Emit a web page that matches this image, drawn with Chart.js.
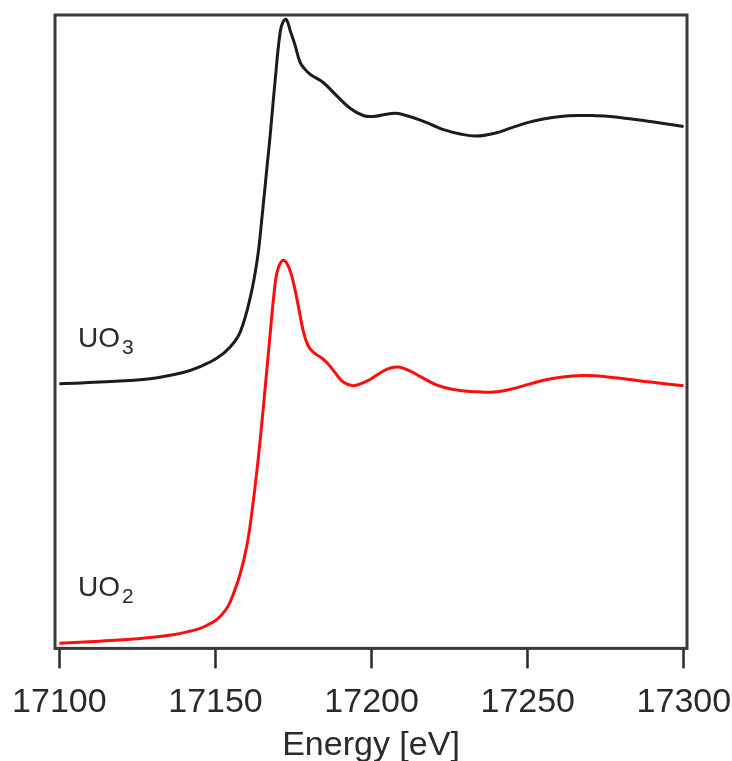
<!DOCTYPE html>
<html>
<head>
<meta charset="utf-8">
<script src="https://cdn.jsdelivr.net/npm/chart.js@4.4.1/dist/chart.umd.min.js"></script>
<style>
  body { margin: 0; background: #fff; }
  #wrap { width: 732px; height: 761px; }
</style>
</head>
<body>
<div id="wrap"><canvas id="xanes"></canvas></div>
<script>
const xTicks = [17100, 17150, 17200, 17250, 17300];

// UO3 (stacked one unit above UO2)
const uo3Energy = [17100.0, 17113.0, 17129.1, 17139.6, 17145.1, 17150.5, 17154.7, 17157.9, 17161.1, 17163.4,
  17165.0, 17166.6, 17167.5, 17169.1, 17170.7, 17171.7, 17172.7, 17173.9, 17175.5, 17177.1,
  17178.7, 17180.4, 17184.5, 17189.0, 17193.2, 17197.3, 17200.6, 17207.3, 17210.8, 17215.6,
  17219.8, 17223.0, 17228.4, 17233.5, 17239.7, 17244.5, 17249.9, 17255.0, 17260.5, 17265.9,
  17271.7, 17276.5, 17281.9, 17287.1, 17292.5, 17299.9];
const uo3Mu = [1.005, 1.012, 1.025, 1.049, 1.072, 1.105, 1.148, 1.206, 1.339, 1.490,
  1.665, 1.860, 1.969, 2.183, 2.370, 2.412, 2.419, 2.377, 2.319, 2.253,
  2.226, 2.206, 2.175, 2.121, 2.074, 2.047, 2.043, 2.056, 2.048, 2.029,
  2.008, 1.992, 1.975, 1.967, 1.979, 1.998, 2.019, 2.033, 2.043, 2.047,
  2.046, 2.043, 2.035, 2.027, 2.018, 2.004];

// UO2
const uo2Energy = [17100.0, 17113.0, 17125.9, 17136.4, 17141.9, 17145.1, 17147.3, 17150.5, 17153.1, 17154.7,
  17157.9, 17160.2, 17162.1, 17163.7, 17165.3, 17167.5, 17169.1, 17170.1, 17171.8, 17173.9,
  17176.2, 17178.1, 17179.7, 17181.3, 17183.6, 17185.8, 17188.4, 17190.9, 17194.1, 17197.0,
  17199.6, 17205.0, 17208.6, 17212.4, 17215.6, 17219.8, 17223.0, 17228.4, 17233.9, 17239.0,
  17244.5, 17249.9, 17255.0, 17260.5, 17267.9, 17274.9, 17281.9, 17289.3, 17299.9];
const uo2Mu = [-0.002, 0.006, 0.016, 0.031, 0.045, 0.056, 0.068, 0.091, 0.125, 0.158,
  0.267, 0.387, 0.549, 0.716, 0.911, 1.198, 1.393, 1.455, 1.485, 1.444,
  1.327, 1.210, 1.152, 1.128, 1.109, 1.086, 1.047, 1.012, 0.998, 1.008,
  1.023, 1.062, 1.070, 1.054, 1.033, 1.006, 0.992, 0.979, 0.974, 0.973,
  0.984, 1.002, 1.019, 1.031, 1.037, 1.033, 1.023, 1.012, 0.998];

const toPoints = (xs, ys) => xs.map((x, i) => ({x: x, y: ys[i]}));

const FONT = '"Liberation Sans", Arial, sans-serif';
const INK = '#2a2a2a';

// box around the plot area
const framePlugin = {
  id: 'frame',
  afterDatasetsDraw(chart) {
    const {ctx, chartArea: a} = chart;
    ctx.save();
    ctx.strokeStyle = '#3a3a3a';
    ctx.lineWidth = 3;
    ctx.strokeRect(a.left, a.top, a.right - a.left, a.bottom - a.top);
    ctx.restore();
  }
};

// sample names with subscripts, placed in data coordinates
const nameTags = [
  {base: 'UO', sub: '3', x: 17106, y: 1.148},
  {base: 'UO', sub: '2', x: 17106, y: 0.183}
];
const namePlugin = {
  id: 'names',
  afterDatasetsDraw(chart) {
    const {ctx, scales} = chart;
    ctx.save();
    ctx.fillStyle = INK;
    ctx.textBaseline = 'alphabetic';
    nameTags.forEach(t => {
      const px = scales.x.getPixelForValue(t.x);
      const py = scales.y.getPixelForValue(t.y);
      ctx.font = '28px ' + FONT;
      ctx.fillText(t.base, px, py);
      const w = ctx.measureText(t.base).width;
      ctx.font = '21px ' + FONT;
      ctx.fillText(t.sub, px + w + 2, py + 7);
    });
    ctx.restore();
  }
};

new Chart(document.getElementById('xanes'), {
  type: 'line',
  data: {
    datasets: [
      {
        label: 'UO3',
        data: toPoints(uo3Energy, uo3Mu),
        borderColor: '#1c1c1c',
        borderWidth: 3,
        pointRadius: 0,
        tension: 0.4
      },
      {
        label: 'UO2',
        data: toPoints(uo2Energy, uo2Mu),
        borderColor: '#ff0d0d',
        borderWidth: 3,
        pointRadius: 0,
        tension: 0.4
      }
    ]
  },
  options: {
    responsive: true,
    maintainAspectRatio: false,
    animation: false,
    events: [],
    layout: { padding: { left: 55, right: 45, top: 15, bottom: -5 } },
    plugins: {
      legend: { display: false },
      tooltip: { enabled: false }
    },
    scales: {
      x: {
        type: 'linear',
        min: 17098.6,
        max: 17301,
        afterBuildTicks: axis => { axis.ticks = xTicks.map(v => ({value: v})); },
        // labels may hang past the plot box, keep the box where the padding puts it
        afterFit: axis => { axis.paddingLeft = 0; axis.paddingRight = 0; },
        border: { display: false },
        grid: {
          drawOnChartArea: false,
          drawTicks: true,
          tickLength: 20,
          tickWidth: 2.5,
          tickColor: INK
        },
        ticks: {
          padding: 14,
          color: INK,
          font: { family: FONT, size: 34 },
          maxRotation: 0,
          callback: v => String(v)
        },
        title: {
          display: true,
          text: 'Energy [eV]',
          color: INK,
          font: { family: FONT, size: 34 },
          padding: { top: -12, bottom: 0 }
        }
      },
      y: {
        display: false,
        min: -0.022,
        max: 2.437
      }
    }
  },
  plugins: [framePlugin, namePlugin]
});
</script>
</body>
</html>
